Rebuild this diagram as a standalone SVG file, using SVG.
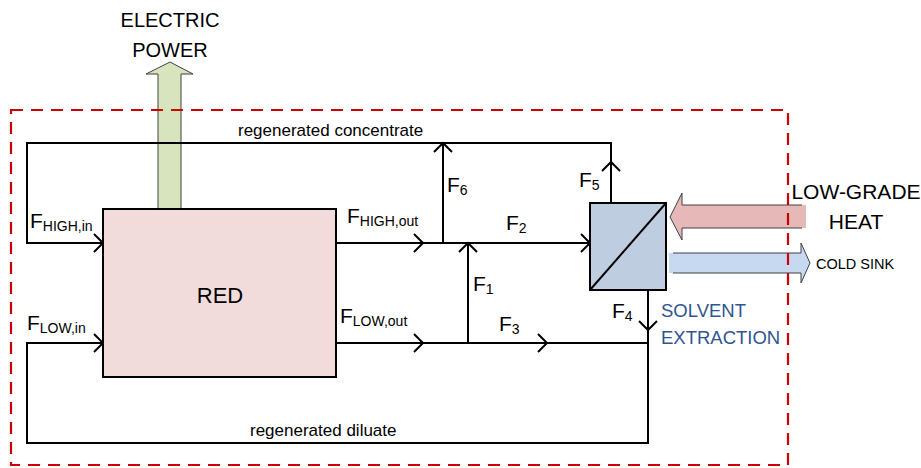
<svg xmlns="http://www.w3.org/2000/svg" width="921" height="468" viewBox="0 0 921 468">
<style>
text{font-family:"Liberation Sans",Arial,sans-serif;fill:#000}
.flow{fill:none;stroke:#000;stroke-width:2}
.lbl{font-size:21px}
.sub{font-size:14px}
.note{font-size:17px}
.big{font-size:21px}
.blk{stroke:#000;stroke-width:2}
</style>
<defs>
<marker id="chev" markerUnits="userSpaceOnUse" viewBox="-11 -11 13 22" refX="0" refY="0" markerWidth="13" markerHeight="22" orient="auto" overflow="visible">
<path d="M-9,-9 L0,0 L-9,9" fill="none" stroke="#000" stroke-width="2"/>
</marker>
</defs>
<rect width="921" height="468" fill="#fff"/>

<g id="electric-power">
<path d="M158,209 L158,74 L146,74 L170,62 L193,74 L181,74 L181,209" fill="#d7e4bd" stroke="#404040" stroke-width="1"/>
<text x="170" y="27" text-anchor="middle" font-size="20">ELECTRIC</text>
<text x="170" y="57" text-anchor="middle" font-size="20">POWER</text>
</g>

<g id="low-grade-heat">
<path d="M806,205 L682,205 L682,193 L670,217 L682,240 L682,228 L806,228 Z" fill="#e6b9b8"/>
<path d="M802,205 L682,205 L682,193 L670,217 L682,240 L682,228 L802,228" fill="none" stroke="#404040" stroke-width="1"/>
<text x="856" y="199" text-anchor="middle" class="big">LOW-GRADE</text>
<text x="856" y="229" text-anchor="middle" class="big">HEAT</text>
</g>

<g id="cold-sink">
<path d="M669,253 L801,253 L801,243 L810,263 L801,283 L801,273 L669,273 Z" fill="#c6d9f1"/>
<path d="M673,253 L801,253 L801,243 L810,263 L801,283 L801,273 L673,273" fill="none" stroke="#404040" stroke-width="1"/>
<text x="816" y="269" font-size="14.5">COLD SINK</text>
</g>

<g id="connectors">
<!-- top loop: regenerated concentrate -->
<path class="flow" d="M611,203 L611,162" marker-end="url(#chev)"/>
<path class="flow" d="M611,162 L611,143 L27,143 L27,243 L103,243" marker-end="url(#chev)"/>
<path class="flow" d="M443,243 L443,143" marker-end="url(#chev)"/>
<!-- high out -->
<path class="flow" d="M336,243 L423,243" marker-end="url(#chev)"/>
<path class="flow" d="M423,243 L590,243" marker-end="url(#chev)"/>
<!-- F1 -->
<path class="flow" d="M468,343 L468,243" marker-end="url(#chev)"/>
<!-- low out -->
<path class="flow" d="M336,343 L423,343" marker-end="url(#chev)"/>
<path class="flow" d="M423,343 L547,343" marker-end="url(#chev)"/>
<path class="flow" d="M547,343 L648,343"/>
<!-- F4 and bottom loop -->
<path class="flow" d="M648,290 L648,330" marker-end="url(#chev)"/>
<path class="flow" d="M648,330 L648,443 L27,443 L27,343 L103,343" marker-end="url(#chev)"/>
</g>

<g id="red">
<rect x="103" y="209" width="233" height="168" fill="#f2dcdb" class="blk"/>
<text x="220" y="303" text-anchor="middle" font-size="22">RED</text>
</g>

<g id="solvent-extraction">
<rect x="590" y="203" width="76" height="87" fill="#bfcde1" class="blk"/>
<line x1="590" y1="290" x2="666" y2="203" class="blk"/>
<text x="661" y="317" font-size="18.5" style="fill:#2e5590">SOLVENT</text>
<text x="661" y="344" font-size="18.5" style="fill:#2e5590">EXTRACTION</text>
</g>

<g id="labels">
<text x="238" y="136" class="note" font-size="17">regenerated concentrate</text>
<text x="250" y="436" class="note" font-size="17.5">regenerated diluate</text>
<text x="30" y="228" class="lbl">F<tspan class="sub" dy="3">HIGH,in</tspan></text>
<text x="347" y="223" class="lbl">F<tspan class="sub" dy="3">HIGH,out</tspan></text>
<text x="27" y="330" class="lbl">F<tspan class="sub" dy="3">LOW,in</tspan></text>
<text x="340" y="323" class="lbl">F<tspan class="sub" dy="3">LOW,out</tspan></text>
<text x="473" y="291" class="lbl">F<tspan class="sub" dy="3">1</tspan></text>
<text x="506" y="230" class="lbl">F<tspan class="sub" dy="3">2</tspan></text>
<text x="499" y="331" class="lbl">F<tspan class="sub" dy="3">3</tspan></text>
<text x="612" y="318" class="lbl">F<tspan class="sub" dy="3">4</tspan></text>
<text x="579" y="187" class="lbl">F<tspan class="sub" dy="3">5</tspan></text>
<text x="447" y="192" class="lbl">F<tspan class="sub" dy="3">6</tspan></text>
</g>

<g id="boundary">
<rect x="11" y="110" width="777" height="355" fill="none" stroke="#cc0000" stroke-width="2.2" stroke-dasharray="12,8"/>
</g>
</svg>
